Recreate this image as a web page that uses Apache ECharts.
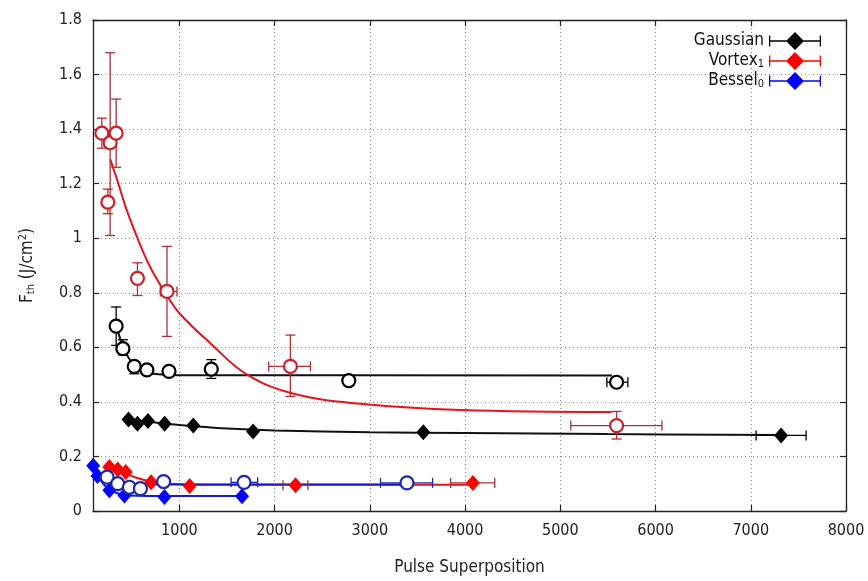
<!DOCTYPE html>
<html>
<head>
<meta charset="utf-8">
<script src="https://cdn.jsdelivr.net/npm/echarts@6/dist/echarts.min.js"></script>
<style>html,body{margin:0;padding:0;background:#fff}#c{width:868px;height:581px}</style>
</head>
<body>
<div id="c"></div>
<script>
// ---------- data ----------
const xTickLabels = [1000, 2000, 3000, 4000, 5000, 6000, 7000, 8000];
const yTickLabels = [0, 0.2, 0.4, 0.6, 0.8, 1, 1.2, 1.4, 1.6, 1.8];
const seriesNames = ['Gaussian', 'Vortex1', 'Bessel0'];

// Gaussian, filled diamonds
const gaussFilledX   = [466, 560, 670, 845, 1146, 1774, 3562, 7319];
const gaussFilledY   = [0.335, 0.320, 0.330, 0.320, 0.313, 0.291, 0.289, 0.277];
const gaussFilledXLo = [null, null, null, null, null, null, null, 7056];
const gaussFilledXHi = [null, null, null, null, null, null, null, 7581];
const gaussFilledYLo = [null, null, null, null, null, null, null, null];
const gaussFilledYHi = [null, null, null, null, null, null, null, null];
const gaussFilledFitX = [466, 700, 1000, 1500, 2000, 3000, 4000, 5500, 7319];
const gaussFilledFitY = [0.336, 0.326, 0.315, 0.302, 0.295, 0.289, 0.286, 0.282, 0.279];

// Gaussian, open circles
const gaussOpenX   = [336, 407, 526, 659, 891, 1335, 2779, 5591];
const gaussOpenY   = [0.678, 0.595, 0.530, 0.517, 0.512, 0.520, 0.478, 0.472];
const gaussOpenXLo = [null, null, null, null, null, null, 2730, 5489];
const gaussOpenXHi = [null, null, null, null, null, null, 2830, 5710];
const gaussOpenYLo = [0.607, 0.572, 0.503, null, null, 0.486, null, null];
const gaussOpenYHi = [0.748, 0.628, 0.548, null, null, 0.555, null, null];
const gaussOpenFitX = [336, 380, 407, 470, 526, 600, 659, 750, 891, 1100, 1335, 5542];
const gaussOpenFitY = [0.678, 0.630, 0.600, 0.560, 0.535, 0.515, 0.508, 0.502, 0.499, 0.498, 0.498, 0.497];

// Vortex1, open circles
const vortexOpenX   = [186, 249, 273, 336, 560, 870, 2166, 5591];
const vortexOpenY   = [1.385, 1.132, 1.350, 1.385, 0.853, 0.805, 0.530, 0.313];
const vortexOpenXLo = [null, null, null, null, null, 800, 1938, 5110];
const vortexOpenXHi = [null, null, null, null, null, 975, 2376, 6067];
const vortexOpenYLo = [1.33, 1.09, 1.01, 1.26, 0.79, 0.64, 0.42, 0.264];
const vortexOpenYHi = [1.44, 1.18, 1.68, 1.51, 0.91, 0.97, 0.645, 0.365];
const vortexOpenFitX = [273, 350, 450, 560, 700, 870, 1000, 1325, 1711, 2200, 2900, 3950, 5540];
const vortexOpenFitY = [1.29, 1.21, 1.10, 1.00, 0.89, 0.79, 0.725, 0.615, 0.50, 0.43, 0.393, 0.37, 0.363];

// Vortex1, filled diamonds
const vortexFilledX   = [265, 353, 437, 703, 1108, 2220, 4082];
const vortexFilledY   = [0.161, 0.152, 0.143, 0.105, 0.092, 0.094, 0.103];
const vortexFilledXLo = [null, null, null, null, null, 2088, 3849];
const vortexFilledXHi = [null, null, null, null, null, 2350, 4311];
const vortexFilledYLo = [null, null, null, null, null, null, null];
const vortexFilledYHi = [null, null, null, null, null, null, null];
const vortexFilledFitX = [265, 353, 437, 550, 703, 900, 1108, 1500, 2220, 4082];
const vortexFilledFitY = [0.158, 0.148, 0.138, 0.122, 0.108, 0.100, 0.097, 0.096, 0.096, 0.096];

// Bessel0, filled diamonds
const besselFilledX   = [95, 140, 265, 423, 843, 1658];
const besselFilledY   = [0.166, 0.128, 0.076, 0.057, 0.051, 0.054];
const besselFilledXLo = [null, null, null, null, null, null];
const besselFilledXHi = [null, null, null, null, null, null];
const besselFilledYLo = [null, null, null, null, null, null];
const besselFilledYHi = [null, null, null, null, null, null];
const besselFilledFitX = [95, 140, 200, 265, 340, 423, 550, 843, 1658];
const besselFilledFitY = [0.166, 0.130, 0.100, 0.080, 0.066, 0.059, 0.056, 0.055, 0.055];

// Bessel0, open circles
const besselOpenX   = [241, 353, 475, 591, 835, 1679, 3390];
const besselOpenY   = [0.124, 0.100, 0.087, 0.082, 0.108, 0.105, 0.103];
const besselOpenXLo = [null, null, null, null, null, 1543, 3112];
const besselOpenXHi = [null, null, null, null, null, 1822, 3659];
const besselOpenYLo = [null, null, null, null, null, null, null];
const besselOpenYHi = [null, null, null, null, null, null, null];
const besselOpenFitX = [241, 300, 353, 420, 475, 591, 835, 1679, 3390];
const besselOpenFitY = [0.122, 0.112, 0.106, 0.101, 0.099, 0.098, 0.097, 0.097, 0.097];

// ---------- build ----------
const FONT = "'DejaVu Sans Condensed', 'DejaVu Sans', sans-serif";
const zip = (a, b) => a.map((v, i) => [v, b[i]]);
const nz = v => (v === null || v === undefined) ? NaN : v;
const errData = (x, y, xl, xh, yl, yh) => x.map((v, i) => [v, y[i], nz(xl[i]), nz(xh[i]), nz(yl[i]), nz(yh[i])]);

function errSeries(data, color, z) {
  return {
    type: 'custom', z: z, silent: true, clip: true,
    encode: { x: 0, y: 1 },
    data: data,
    renderItem: function (params, api) {
      const x = api.value(0), y = api.value(1);
      const xl = api.value(2), xh = api.value(3), yl = api.value(4), yh = api.value(5);
      const children = [];
      const st = { stroke: color, lineWidth: 1.3 };
      const cap = 5;
      if (!isNaN(yl) && !isNaN(yh)) {
        const p1 = api.coord([x, yl]), p2 = api.coord([x, yh]);
        children.push({ type: 'line', shape: { x1: p1[0], y1: p1[1], x2: p2[0], y2: p2[1] }, style: st });
        children.push({ type: 'line', shape: { x1: p1[0] - cap, y1: p1[1], x2: p1[0] + cap, y2: p1[1] }, style: st });
        children.push({ type: 'line', shape: { x1: p2[0] - cap, y1: p2[1], x2: p2[0] + cap, y2: p2[1] }, style: st });
      }
      if (!isNaN(xl) && !isNaN(xh)) {
        const p1 = api.coord([xl, y]), p2 = api.coord([xh, y]);
        children.push({ type: 'line', shape: { x1: p1[0], y1: p1[1], x2: p2[0], y2: p2[1] }, style: st });
        children.push({ type: 'line', shape: { x1: p1[0], y1: p1[1] - cap, x2: p1[0], y2: p1[1] + cap }, style: st });
        children.push({ type: 'line', shape: { x1: p2[0], y1: p2[1] - cap, x2: p2[0], y2: p2[1] + cap }, style: st });
      }
      return { type: 'group', children: children };
    }
  };
}
function fitSeries(x, y, color, z) {
  return { type: 'line', data: zip(x, y), smooth: 0.4, showSymbol: false, silent: true, z: z,
    lineStyle: { color: color, width: 2 }, itemStyle: { color: color } };
}
function diamondSeries(name, x, y, color, z) {
  return { type: 'scatter', name: name, data: zip(x, y), symbol: 'diamond', symbolSize: [14, 16], z: z,
    itemStyle: { color: color, opacity: 1 } };
}
function circleSeries(x, y, color, z) {
  return { type: 'scatter', data: zip(x, y), symbol: 'circle', symbolSize: 13, z: z,
    itemStyle: { color: '#ffffff', borderColor: color, borderWidth: 2.2, opacity: 1 } };
}

const black = '#000000', redPt = '#ff0000', redC = '#cc1f2a', redErr = '#a83236', redLine = '#e5131d';
const blue = '#0000ff', blueC = '#1e2aa8', blueLine = '#1818d8';

const series = [
  fitSeries(gaussFilledFitX, gaussFilledFitY, '#111', 2),
  fitSeries(gaussOpenFitX, gaussOpenFitY, '#111', 2),
  fitSeries(vortexOpenFitX, vortexOpenFitY, redLine, 3),
  fitSeries(vortexFilledFitX, vortexFilledFitY, redLine, 3),
  fitSeries(besselFilledFitX, besselFilledFitY, blueLine, 4),
  fitSeries(besselOpenFitX, besselOpenFitY, blueLine, 4),
  errSeries(errData(gaussFilledX, gaussFilledY, gaussFilledXLo, gaussFilledXHi, gaussFilledYLo, gaussFilledYHi), black, 5),
  errSeries(errData(gaussOpenX, gaussOpenY, gaussOpenXLo, gaussOpenXHi, gaussOpenYLo, gaussOpenYHi), black, 5),
  errSeries(errData(vortexOpenX, vortexOpenY, vortexOpenXLo, vortexOpenXHi, vortexOpenYLo, vortexOpenYHi), redErr, 6),
  errSeries(errData(vortexFilledX, vortexFilledY, vortexFilledXLo, vortexFilledXHi, vortexFilledYLo, vortexFilledYHi), redErr, 6),
  errSeries(errData(besselFilledX, besselFilledY, besselFilledXLo, besselFilledXHi, besselFilledYLo, besselFilledYHi), blueC, 7),
  errSeries(errData(besselOpenX, besselOpenY, besselOpenXLo, besselOpenXHi, besselOpenYLo, besselOpenYHi), blueC, 7),
  diamondSeries(seriesNames[0], gaussFilledX, gaussFilledY, black, 10),
  circleSeries(gaussOpenX, gaussOpenY, black, 10),
  diamondSeries(seriesNames[1], vortexFilledX, vortexFilledY, redPt, 11),
  circleSeries(vortexOpenX, vortexOpenY, redC, 11),
  diamondSeries(seriesNames[2], besselFilledX, besselFilledY, blue, 12),
  circleSeries(besselOpenX, besselOpenY, blueC, 12)
];

const legendIcon = 'path://M0,3.5H1.3V8.3H50.7V3.5H52V14.5H50.7V9.7H1.3V14.5H0Z M26,0L35,9L26,18L17,9Z';
const legendLabels = { 'Gaussian': '{m|Gaussian}', 'Vortex1': '{m|Vortex}{s|1}', 'Bessel0': '{m|Bessel}{s|0}' };

const axisCommon = {
  type: 'value',
  axisLine: { show: true, onZero: false, lineStyle: { color: '#222', width: 1.3 } },
  axisTick: { show: true, inside: true, length: 6, lineStyle: { color: '#222', width: 1.2 } },
  splitLine: { show: false }
};
const gridLine = { show: true, lineStyle: { type: [1, 3], color: '#8a8a8a', width: 1 } };

const option = {
  animation: false,
  backgroundColor: '#ffffff',
  grid: { left: 93, right: 22, top: 20, bottom: 67, containLabel: false },
  legend: {
    orient: 'vertical', right: 42, top: 27, align: 'right', itemGap: 2,
    itemWidth: 52, itemHeight: 18,
    data: seriesNames.map(n => ({ name: n, icon: legendIcon })),
    formatter: n => legendLabels[n],
    textStyle: { fontFamily: FONT, color: '#111', fontSize: 17,
      rich: { m: { fontFamily: FONT, fontSize: 17, color: '#111', lineHeight: 18 },
              s: { fontFamily: FONT, fontSize: 11, color: '#111', verticalAlign: 'bottom', lineHeight: 6 } } },
    selectedMode: false
  },
  xAxis: [
    Object.assign({}, axisCommon, {
      min: 93, max: 8000, splitNumber: 8, position: 'bottom',
      name: 'Pulse Superposition', nameLocation: 'middle', nameGap: 48,
      nameTextStyle: { fontFamily: FONT, fontSize: 17, color: '#222' },
      axisTick: Object.assign({}, axisCommon.axisTick, { customValues: xTickLabels }),
      axisLabel: { customValues: xTickLabels, fontFamily: FONT, fontSize: 16, color: '#222', margin: 12,
        formatter: v => String(v) },
      splitLine: gridLine
    }),
    Object.assign({}, axisCommon, {
      min: 93, max: 8000, position: 'top',
      axisTick: Object.assign({}, axisCommon.axisTick, { customValues: xTickLabels }),
      axisLabel: { show: false }
    })
  ],
  yAxis: [
    Object.assign({}, axisCommon, {
      min: 0, max: 1.8, interval: 0.2, position: 'left',
      name: 'F{s|th} (J/cm{p|2})', nameLocation: 'middle', nameGap: 56,
      nameTextStyle: { fontFamily: FONT, fontSize: 17, color: '#222',
        rich: { s: { fontFamily: FONT, fontSize: 11, color: '#222', verticalAlign: 'bottom', padding: [8, 0, 0, 0] },
                p: { fontFamily: FONT, fontSize: 11, color: '#222', verticalAlign: 'top', padding: [0, 0, 8, 0] } } },
      axisLabel: { fontFamily: FONT, fontSize: 16, color: '#222', margin: 11,
        formatter: v => String(yTickLabels.find(t => Math.abs(t - v) < 1e-6) ?? v) },
      splitLine: gridLine
    }),
    Object.assign({}, axisCommon, {
      min: 0, max: 1.8, interval: 0.2, position: 'right',
      axisLabel: { show: false }
    })
  ],
  series: series
};

const chart = echarts.init(document.getElementById('c'), null, { renderer: 'canvas' });
chart.setOption(option);
</script>
</body>
</html>
